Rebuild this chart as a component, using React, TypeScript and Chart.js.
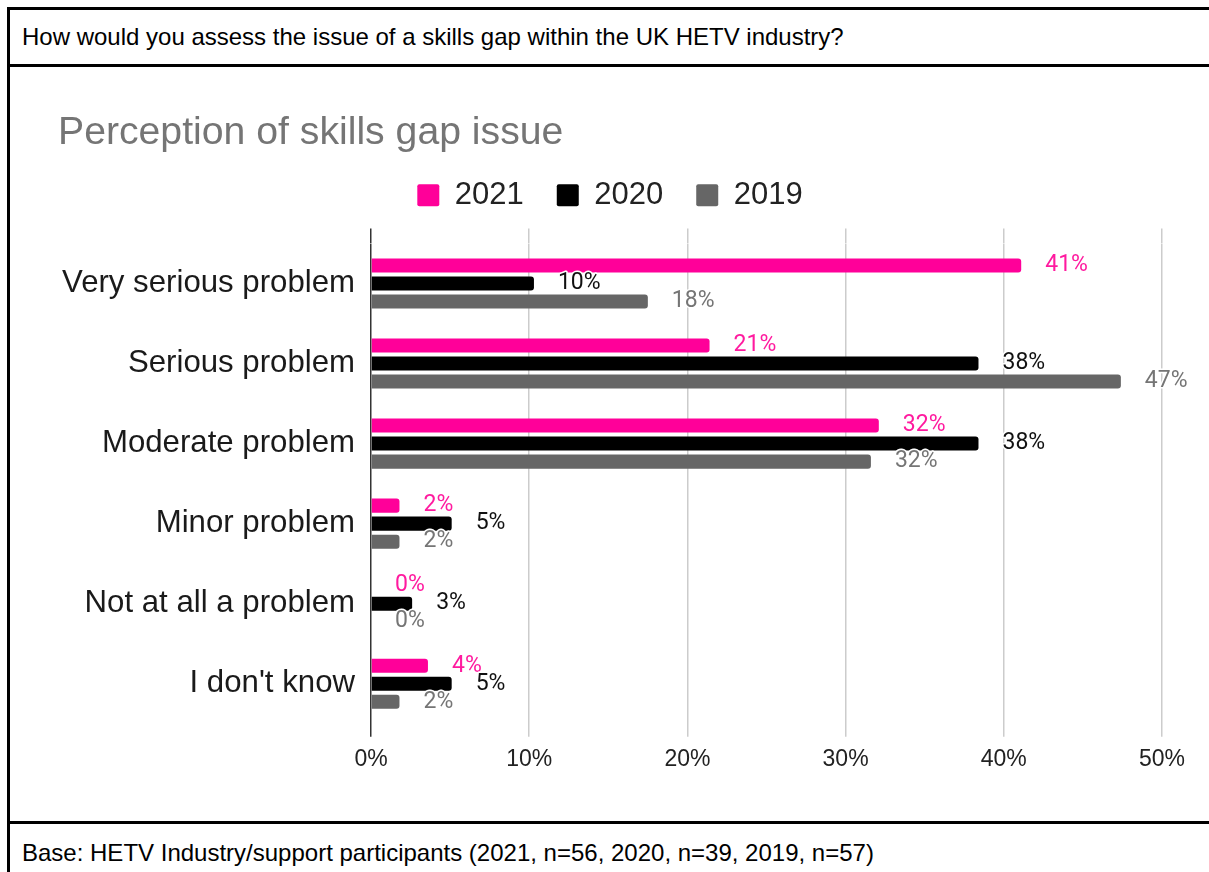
import React, { useEffect, useRef } from "react";
import { Chart, registerables } from "chart.js";

Chart.register(...registerables);

const categories = [
  "Very serious problem",
  "Serious problem",
  "Moderate problem",
  "Minor problem",
  "Not at all a problem",
  "I don't know",
];
const seriesNames = ["2021", "2020", "2019"];
const values2021 = [41.1, 21.4, 32.1, 1.8, 0, 3.6];
const values2020 = [10.3, 38.4, 38.4, 5.1, 2.6, 5.1];
const values2019 = [17.5, 47.4, 31.6, 1.8, 0, 1.8];
const barColors = ["#ff0099", "#000000", "#666666"];
const labelColors = ["#ff1a9f", "#111111", "#757575"];
const xTicks = { min: 0, max: 50, step: 10 };

const questionText = "How would you assess the issue of a skills gap within the UK HETV industry?";
const chartTitle = "Perception of skills gap issue";
const baseText = "Base: HETV Industry/support participants (2021, n=56, 2020, n=39, 2019, n=57)";

const FONT = 'Arial, "Liberation Sans", sans-serif';

const gridColor = (ctx: any) =>
  ctx.tick && ctx.tick.value === 0 ? "#333333" : "#cccccc";

const valueLabelPlugin = {
  id: "valueLabels",
  afterDatasetsDraw(chart: any) {
    const ctx = chart.ctx;
    ctx.save();
    ctx.font = '23px Roboto, "Noto Sans", sans-serif';
    ctx.textAlign = "left";
    ctx.textBaseline = "middle";
    ctx.lineJoin = "round";
    chart.data.datasets.forEach((ds: any, di: number) => {
      const meta = chart.getDatasetMeta(di);
      meta.data.forEach((bar: any, i: number) => {
        const text = Math.round(ds.data[i]) + "%";
        const x = bar.x + 24;
        const y = bar.y;
        ctx.strokeStyle = "#ffffff";
        ctx.lineWidth = 3;
        ctx.strokeText(text, x, y);
        ctx.fillStyle = labelColors[di];
        ctx.fillText(text, x, y);
      });
    });
    ctx.restore();
  },
};

function BarChart() {
  const ref = useRef<HTMLCanvasElement | null>(null);
  useEffect(() => {
    if (!ref.current) return;
    Chart.defaults.font.family = FONT;
    const seriesValues = [values2021, values2020, values2019];
    const chart = new Chart(ref.current, {
      type: "bar",
      data: {
        labels: categories,
        datasets: seriesNames.map((name, i) => ({
          label: name,
          data: seriesValues[i],
          backgroundColor: barColors[i],
          borderWidth: 0,
          borderRadius: 3,
          categoryPercentage: 0.675,
          barPercentage: 0.78,
        })),
      },
      options: {
        indexAxis: "y",
        responsive: false,
        animation: false,
        devicePixelRatio: 1,
        layout: { padding: { left: 48, right: 47, top: 0, bottom: 38.2 } },
        plugins: {
          title: {
            display: true,
            text: chartTitle,
            align: "start",
            color: "#757575",
            font: { size: 39.2, weight: "normal", family: FONT, lineHeight: 1.2 },
            padding: { top: 42.6, bottom: -9.9 },
          },
          legend: {
            display: true,
            position: "top",
            labels: {
              boxWidth: 22,
              boxHeight: 22,
              padding: 33,
              color: "#222222",
              font: { size: 31, family: FONT },
              useBorderRadius: true,
              borderRadius: 2,
            },
          },
          tooltip: { enabled: false },
        },
        scales: {
          x: {
            type: "linear",
            position: "bottom",
            min: xTicks.min,
            max: xTicks.max,
            ticks: {
              stepSize: xTicks.step,
              padding: 9.2,
              color: "#222222",
              font: { size: 23, family: FONT },
              callback: (v: any) => v + "%",
            },
            grid: {
              color: gridColor,
              tickColor: gridColor,
              lineWidth: 1.5,
              drawTicks: true,
              tickLength: 13,
            },
            border: { display: false },
          },
          xTop: {
            type: "linear",
            axis: "x",
            position: "top",
            min: xTicks.min,
            max: xTicks.max,
            ticks: { stepSize: xTicks.step, display: false },
            grid: {
              color: gridColor,
              tickColor: gridColor,
              lineWidth: 1.5,
              drawOnChartArea: false,
              drawTicks: true,
              tickLength: 15,
            },
            title: { display: true, text: "", padding: 0, font: { size: 7.7, lineHeight: 1 } },
            border: { display: false },
          },
          y: {
            type: "category",
            grid: { display: false, drawTicks: false },
            border: { display: false },
            ticks: {
              padding: 16,
              color: "#1a1a1a",
              font: { size: 31.2, family: FONT },
            },
            afterFit: (scale: any) => {
              scale.width = 313;
            },
          },
        },
      },
      plugins: [valueLabelPlugin],
    } as any);
    return () => chart.destroy();
  }, []);
  return <canvas ref={ref} width={1199} height={754} style={{ display: "block" }} />;
}

export default function App() {
  useEffect(() => {
    document.documentElement.style.overflow = "hidden";
    document.body.style.overflow = "hidden";
  }, []);
  const rowText: React.CSSProperties = {
    display: "flex",
    alignItems: "center",
    paddingLeft: 12,
    fontSize: 24,
    color: "#000",
    whiteSpace: "nowrap",
  };
  return (
    <div
      style={{
        position: "absolute",
        left: 7,
        top: 7,
        width: 1240,
        border: "3px solid #000",
        fontFamily: FONT,
        background: "#fff",
      }}
    >
      <div style={{ ...rowText, height: 54 }}>{questionText}</div>
      <div style={{ borderTop: "3px solid #000", height: 754 }}>
        <BarChart />
      </div>
      <div style={{ ...rowText, borderTop: "3px solid #000", height: 58 }}>{baseText}</div>
    </div>
  );
}
